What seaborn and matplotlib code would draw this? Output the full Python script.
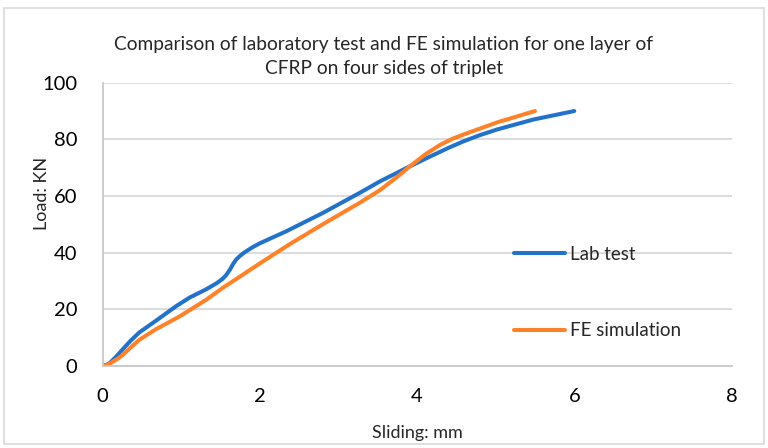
import numpy as np
import pandas as pd
import matplotlib
matplotlib.use("Agg")
import matplotlib.pyplot as plt
from matplotlib.patches import Rectangle
import seaborn as sns

# Load–slip curves (Sliding in mm, Load in kN)
lab_slide = [0.0, 0.05, 0.09, 0.17, 0.26, 0.36, 0.47, 0.68, 0.94, 1.11, 1.32,
             1.45, 1.52, 1.57, 1.62, 1.66, 1.70, 1.75, 1.80, 1.90, 2.00, 2.34,
             2.80, 3.27, 3.53, 3.91, 4.17, 4.40, 4.59, 4.80, 5.02, 5.48, 6.00]
lab_load = [0.0, 0.4, 1.0, 3.2, 6.0, 9.0, 11.9, 16.0, 21.2, 24.2, 27.1,
            29.2, 30.6, 32.0, 34.0, 36.0, 37.6, 38.9, 40.0, 41.8, 43.3, 47.6,
            54.0, 61.1, 65.2, 70.5, 74.0, 77.0, 79.3, 81.5, 83.5, 87.0, 90.0]

fe_slide = [0.0, 0.07, 0.13, 0.2, 0.26, 0.36, 0.47, 0.68, 0.98, 1.32, 1.53,
            1.75, 2.00, 2.38, 2.80, 3.27, 3.53, 3.75, 3.91, 4.10, 4.29, 4.45,
            4.59, 5.02, 5.50]
fe_load = [0.0, 0.5, 1.5, 2.7, 4.0, 6.6, 9.3, 13.0, 17.5, 23.4, 27.6,
           31.6, 36.2, 43.0, 50.0, 57.6, 62.1, 66.8, 70.5, 74.6, 78.0, 80.2,
           81.7, 86.0, 90.0]

series_names = ["Lab test", "FE simulation"]
series_colors = ["#2272C9", "#FF8129"]

x_ticks = [0, 2, 4, 6, 8]
y_ticks = [0, 20, 40, 60, 80, 100]

df = pd.concat([
    pd.DataFrame({"Sliding": lab_slide, "Load": lab_load, "Series": series_names[0]}),
    pd.DataFrame({"Sliding": fe_slide, "Load": fe_load, "Series": series_names[1]}),
], ignore_index=True)

sns.set_theme(style="white")
plt.rcParams["font.family"] = ["Lato", "DejaVu Sans"]

fig = plt.figure(figsize=(7.68, 4.48), dpi=100)
ax = fig.add_axes([0.1335, 0.183, 0.819, 0.6324])

sns.lineplot(data=df, x="Sliding", y="Load", hue="Series", sort=False,
             estimator=None, palette=dict(zip(series_names, series_colors)),
             linewidth=2.9, ax=ax, legend=False)
for line in ax.lines:
    line.set_solid_capstyle("round")
    line.set_solid_joinstyle("round")

ax.set_xlim(0, 8)
ax.set_ylim(0, 100)
ax.set_xticks(x_ticks)
ax.set_yticks(y_ticks)
ax.set_xticklabels([str(t) for t in x_ticks])
ax.set_yticklabels([str(t) for t in y_ticks])
ax.tick_params(axis="both", length=0, labelsize=14.5, colors="#000000")
ax.tick_params(axis="y", pad=18)
ax.tick_params(axis="x", pad=16)

ax.yaxis.grid(True, color="#D9D9D9", linewidth=1.3)
ax.set_axisbelow(True)
for side in ["top", "right"]:
    ax.spines[side].set_visible(False)
for side in ["left", "bottom"]:
    ax.spines[side].set_color("#C8C8C8")
    ax.spines[side].set_linewidth(1.3)

ax.set_xlabel("Sliding: mm", fontsize=13)
ax.set_ylabel("Load: KN", fontsize=13)
ax.xaxis.set_label_coords(0.5, -0.208)
ax.yaxis.set_label_coords(-0.084, 0.61)

fig.text(0.5, 0.874,
         "Comparison of laboratory test and FE simulation for one layer of\n"
         "CFRP on four sides of triplet",
         ha="center", va="center", fontsize=13.8, linespacing=1.45)

handles = [plt.Line2D([], [], color=c, linewidth=2.9) for c in series_colors]
leg = ax.legend(handles, series_names, loc="upper left",
                bbox_to_anchor=(506 / 768, 1 - 238 / 448),
                bbox_transform=fig.transFigure, frameon=False,
                fontsize=13.5, handlelength=2.75, handletextpad=0.25,
                labelspacing=3.2, borderaxespad=0)

fig.patches.append(Rectangle((4 / 768, 4 / 448), 760 / 768, 436 / 448,
                             transform=fig.transFigure, fill=False,
                             edgecolor="#D9D9D9", linewidth=1.2))

fig.savefig("out.png", dpi=100)
